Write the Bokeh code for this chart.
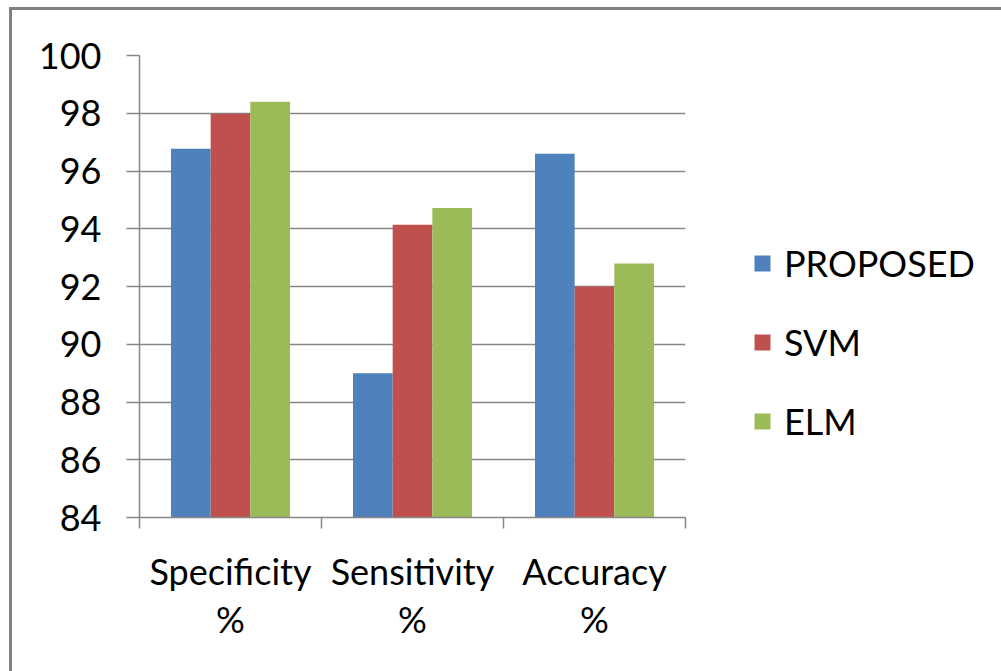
from bokeh.plotting import figure
from bokeh.models import FixedTicker, Legend, LegendItem, Range1d
from bokeh.embed import file_html
from bokeh.resources import INLINE

categories = ["Specificity\n%", "Sensitivity\n%", "Accuracy\n%"]
series_names = ["PROPOSED", "SVM", "ELM"]
proposed = [96.77, 89.0, 96.6]
svm = [97.98, 94.14, 92.0]
elm = [98.4, 94.72, 92.8]
y_ticks = [84, 86, 88, 90, 92, 94, 96, 98, 100]
colors = ["#4F81BD", "#C0504D", "#9BBB59"]

FONT = "Lato"
FS = "36px"
GRID = "#868686"

# canvas is offset by the picture frame (left 12px, top 10px)
p = figure(frame_width=546, frame_height=462, output_backend="svg", toolbar_location=None,
           x_range=Range1d(0, 3), y_range=Range1d(84, 100),
           min_border_left=127, min_border_right=316, min_border_top=45, min_border_bottom=154)
p.styles = {"margin-top": "7px", "margin-left": "9px",
            "border-top": "3px solid #808080", "border-left": "3px solid #808080"}
p.background_fill_color = "white"
p.border_fill_color = "white"
p.outline_line_color = None

centers = [i + 0.5 for i in range(len(categories))]
bw = 0.218
offsets = [-bw, 0.0, bw]
renderers = []
for vals, off, col in zip([proposed, svm, elm], offsets, colors):
    r = p.vbar(x=[c + off for c in centers], top=vals, bottom=84, width=bw,
               fill_color=col, line_color=None)
    renderers.append(r)

# x axis
xa = p.xaxis[0]
xa.ticker = FixedTicker(ticks=centers, minor_ticks=[0, 1, 2, 3])
xa.major_label_overrides = {c: lab for c, lab in zip(centers, categories)}
xa.major_tick_out = 0
xa.major_tick_in = 0
xa.minor_tick_out = 11
xa.minor_tick_in = 0
xa.minor_tick_line_color = GRID
xa.minor_tick_line_width = 1.5
xa.axis_line_color = GRID
xa.axis_line_width = 1.5
xa.major_label_text_font = FONT
xa.major_label_text_font_size = FS
xa.major_label_text_color = "black"
xa.major_label_text_line_height = 1.1
xa.major_label_standoff = 20
p.xgrid.grid_line_color = None

# y axis
ya = p.yaxis[0]
ya.ticker = FixedTicker(ticks=y_ticks)
ya.minor_tick_line_color = None
ya.major_tick_out = 13
ya.major_tick_in = 0
ya.major_tick_line_color = GRID
ya.major_tick_line_width = 1.5
ya.axis_line_color = GRID
ya.axis_line_width = 1.5
ya.major_label_text_font = FONT
ya.major_label_text_font_size = FS
ya.major_label_text_color = "black"
ya.major_label_standoff = 25
p.ygrid.grid_line_color = GRID
p.ygrid.grid_line_width = 1.5

legend = Legend(items=[LegendItem(label=n, renderers=[r]) for n, r in zip(series_names, renderers)],
                location=(67, 74), orientation="vertical",
                label_text_font=FONT, label_text_font_size=FS, label_text_color="black",
                glyph_width=20, glyph_height=20, label_standoff=12,
                label_height=40, spacing=35, padding=0, margin=0,
                border_line_color=None, background_fill_color=None)
p.add_layout(legend, "right")

open("out.html", "w").write(file_html(p, INLINE))
